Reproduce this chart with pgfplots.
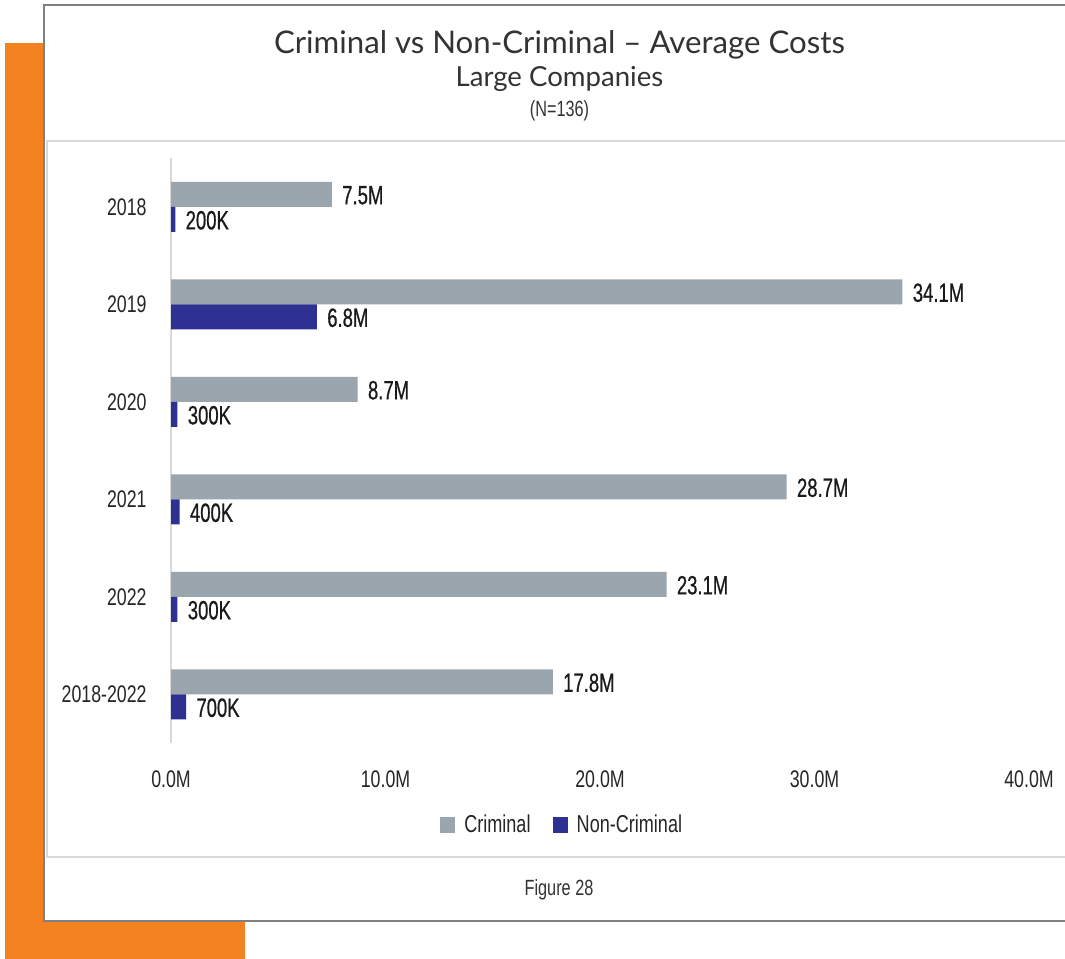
\documentclass[border=0pt]{standalone}
\usepackage{pgfplots}
\pgfplotsset{compat=1.18}
\usepackage{pgfplotstable}
\usepackage{fontspec}
\setmainfont{Lato}
\newfontfamily\titlefont{Lato}
\newfontfamily\cond[FakeStretch=0.74]{Liberation Sans}
\newfontfamily\condb[FakeStretch=0.7,FakeBold=0.6]{Liberation Sans}
\definecolor{crim}{HTML}{9AA5AE}
\definecolor{noncrim}{HTML}{2E3192}
\definecolor{orng}{HTML}{F58220}
\definecolor{txt}{HTML}{1A1A1A}

\pgfplotstableread{
y crim clab non nlab
5 7.5 7.5M 0.2 200K
4 34.1 34.1M 6.8 6.8M
3 8.7 8.7M 0.3 300K
2 28.7 28.7M 0.4 400K
1 23.1 23.1M 0.3 300K
0 17.8 17.8M 0.7 700K
}\datatab

\begin{document}
\begin{tikzpicture}
\begin{scope}[x=0.5pt,y=-0.5pt]
\useasboundingbox (0,0) rectangle (1065,958);
\begin{scope}
\clip (0,0) rectangle (1065,958);
\fill[orng] (5,43) rectangle (245,965);
\draw[fill=white, draw=black!50, line width=1pt] (44,5) rectangle (1085,921);
\draw[draw=black!15, line width=0.8pt] (47,141) rectangle (1085,857);
\end{scope}
\node[font=\titlefont\fontsize{15.6}{18}\selectfont, text=black!80] at (559.5,45) {Criminal vs Non-Criminal – Average Costs};
\node[font=\titlefont\fontsize{13.8}{16}\selectfont, text=black!80] at (559.5,79) {Large Companies};
\node[font=\cond\fontsize{11}{13}\selectfont, text=black!80] at (559.5,111) {(N=136)};
\node[font=\cond\fontsize{11}{13}\selectfont, text=black!80] at (559,890) {Figure 28};
\end{scope}
\begin{axis}[
  at={(85.5pt,-371.5pt)}, anchor=south west,
  scale only axis, width=429pt, height=292.5pt,
  xmin=0, xmax=40, ymin=-0.5, ymax=5.5,
  xbar, bar width=12.5pt,
  axis lines=left,
  x axis line style={draw=none},
  y axis line style={draw=black!15, line width=0.8pt, -},
  xtick={0,10,20,30,40},
  xticklabels={0.0M,10.0M,20.0M,30.0M,40.0M},
  ytick={0,1,2,3,4,5},
  yticklabels={2018-2022,2022,2021,2020,2019,2018},
  major tick length=0pt,
  ticklabel style={font=\cond\fontsize{12}{14}\selectfont, text=black!85},
  xticklabel style={anchor=center, yshift=-18pt},
  yticklabel style={anchor=east, inner sep=0pt, xshift=-12pt},
  nodes near coords,
  point meta=explicit symbolic,
  nodes near coords style={font=\condb\fontsize{13.2}{15}\selectfont, text=txt, anchor=west, inner sep=0pt, xshift=5pt, yshift=-0.5pt},
  legend style={at={(0.457,-0.14)}, anchor=center, draw=none, fill=none,
    legend columns=2, font=\cond\fontsize{12.2}{14}\selectfont, text=black!85,
    /tikz/every odd column/.append style={column sep=2.5pt},
    /tikz/every even column/.append style={column sep=9pt}},
  legend image code/.code={\fill[#1] (0pt,-3.8pt) rectangle (7.6pt,3.8pt);},
]
\addplot[fill=crim, draw=none, bar shift=6.25pt] table[x=crim,y=y,meta=clab]{\datatab};
\addplot[fill=noncrim, draw=none, bar shift=-6.25pt] table[x=non,y=y,meta=nlab]{\datatab};
\legend{Criminal, Non-Criminal}
\end{axis}
\end{tikzpicture}
\end{document}
